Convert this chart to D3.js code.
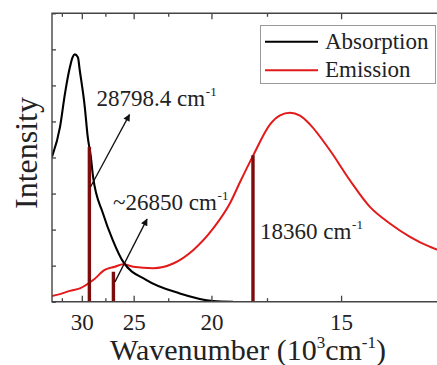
<!DOCTYPE html>
<html><head><meta charset="utf-8">
<script src="https://cdn.jsdelivr.net/npm/d3@7/dist/d3.min.js"></script>
<style>html,body{margin:0;padding:0;background:#fff;}svg{display:block;}</style>
</head><body>
<svg id="c" width="437" height="365"></svg>
<script>
// ---- data (wavenumber in 10^3 cm^-1, intensity in arbitrary units) ----
const absK = [33.90,32.75,32.08,31.44,31.11,30.85,30.46,30.24,29.66,29.33,28.99,28.75,27.75,26.80,25.88,24.01,21.77,19.92,18.95];
const absV = [4.02,4.85,5.78,6.51,6.78,6.86,6.78,6.42,5.40,4.57,4.02,3.46,2.46,1.71,1.11,0.60,0.23,0.02,0.00];
const emiK = [33.90,32.75,31.44,30.22,28.74,27.56,26.61,25.87,25.04,23.52,22.18,20.99,19.90,19.09,18.63,18.06,17.38,17.00,16.64,16.29,15.96,15.33,14.75,14.21,13.71,13.24,12.80,12.66,12.50];
const emiV = [0.16,0.21,0.30,0.37,0.60,0.88,0.97,1.04,0.97,0.93,1.06,1.43,2.04,2.73,3.32,4.06,4.92,5.17,5.24,5.16,4.92,4.20,3.37,2.63,2.17,1.80,1.52,1.45,1.40];
const barK = [29.15, 26.74, 18.07];
const barV = [4.29, 0.83, 4.06];
const barLabels = ["28798.4 cm", "~26850 cm", "18360 cm"];
const arrowFrom = [[29.03, 3.18], [26.60, 0.55]];
const arrowTo = [[25.34, 5.19], [23.97, 2.29]];
const majorTicks = [30, 25, 20, 15];
const minorTicks = [32.5, 27.5, 22.5, 17.5];
const yTicks = [0,1,2,3,4,5,6,7,8];
const seriesNames = ["Absorption", "Emission"];

// ---- layout ----
const svg = d3.select("#c");
const L = 52, T = 13.3, B = 301.7, R = 470;
const FONT = "'Liberation Serif','Times New Roman',serif";
const TXT = "#222";
// x axis is linear in wavelength (nm); wavenumber k -> 1e4/k
const x = d3.scaleLinear().domain([295, 790]).range([52, 437]);
const y = d3.scaleLinear().domain([0, 8]).range([B, T]);
const px = k => x(1e4 / k);

const defs = svg.append("defs");
defs.append("clipPath").attr("id", "clip")
  .append("rect").attr("x", L).attr("y", T).attr("width", R - L).attr("height", B - T);
defs.append("marker").attr("id", "ah").attr("viewBox", "0 0 10 10").attr("refX", 9).attr("refY", 5)
  .attr("markerWidth", 9).attr("markerHeight", 7).attr("markerUnits", "userSpaceOnUse").attr("orient", "auto")
  .append("path").attr("d", "M0,0 L10,5 L0,10 z").attr("fill", "#111");

const plot = svg.append("g").attr("clip-path", "url(#clip)");

const line = d3.line().x(d => px(d[0])).y(d => y(d[1])).curve(d3.curveMonotoneX);
const absData = absK.map((k, i) => [k, absV[i]]);
const emiData = emiK.map((k, i) => [k, emiV[i]]);

plot.append("path").datum(emiData).attr("d", line).attr("fill", "none")
  .attr("stroke", "#e31a1a").attr("stroke-width", 2);
plot.append("path").datum(absData).attr("d", line).attr("fill", "none")
  .attr("stroke", "#000").attr("stroke-width", 2.1);

// bars
plot.selectAll(".bar").data(barK).enter().append("line")
  .attr("x1", d => px(d)).attr("x2", d => px(d))
  .attr("y1", y(0)).attr("y2", (d, i) => y(barV[i]))
  .attr("stroke", "#7d0c0c").attr("stroke-width", 3.4);

// arrows
svg.selectAll(".arr").data(arrowFrom).enter().append("line")
  .attr("x1", d => px(d[0])).attr("y1", d => y(d[1]))
  .attr("x2", (d, i) => px(arrowTo[i][0])).attr("y2", (d, i) => y(arrowTo[i][1]))
  .attr("stroke", "#111").attr("stroke-width", 1.3).attr("marker-end", "url(#ah)");

// axes
const axG = svg.append("g").attr("font-family", FONT);
function styleAxis(g) {
  g.select(".domain").remove();
  g.selectAll(".tick line").attr("stroke", "#444").attr("stroke-width", 1.3);
}
const bMaj = axG.append("g").attr("transform", `translate(0,${B})`)
  .call(d3.axisBottom(x).tickValues(majorTicks.map(k => 1e4 / k)).tickSizeInner(-6).tickSizeOuter(0)
    .tickPadding(9).tickFormat(l => String(Math.round(1e4 / l))));
styleAxis(bMaj);
bMaj.selectAll(".tick text").attr("font-size", 23).attr("fill", TXT).attr("font-family", FONT).attr("dy", "0.85em");
const bMin = axG.append("g").attr("transform", `translate(0,${B})`)
  .call(d3.axisBottom(x).tickValues(minorTicks.map(k => 1e4 / k)).tickSizeInner(-3.5).tickSizeOuter(0).tickFormat(""));
styleAxis(bMin);
const tMaj = axG.append("g").attr("transform", `translate(0,${T})`)
  .call(d3.axisTop(x).tickValues(majorTicks.map(k => 1e4 / k)).tickSizeInner(-6).tickSizeOuter(0).tickFormat(""));
styleAxis(tMaj);
const tMin = axG.append("g").attr("transform", `translate(0,${T})`)
  .call(d3.axisTop(x).tickValues(minorTicks.map(k => 1e4 / k)).tickSizeInner(-3.5).tickSizeOuter(0).tickFormat(""));
styleAxis(tMin);
const lAx = axG.append("g").attr("transform", `translate(${L},0)`)
  .call(d3.axisLeft(y).tickValues(yTicks).tickSizeInner(-4).tickSizeOuter(0).tickFormat(""));
styleAxis(lAx);

// frame
svg.append("path").attr("d", `M${R},${T} H${L} V${B} H${R}`).attr("fill", "none")
  .attr("stroke", "#444").attr("stroke-width", 1.4);

// helper: write a run of [text, size, raise] pieces as separate text elements
function runText(x0, yBase, pieces, anchorMiddle) {
  const g = svg.append("g");
  const els = pieces.map(p => g.append("text").attr("y", yBase - p[2])
    .attr("font-family", FONT).attr("font-size", p[1]).attr("fill", TXT).text(p[0]));
  const widths = els.map(e => e.node().getComputedTextLength());
  const total = d3.sum(widths);
  let cx = anchorMiddle ? x0 - total / 2 : x0;
  els.forEach((e, i) => { e.attr("x", cx); cx += widths[i]; });
}

// annotation labels
const labelPos = [[96.5, 106], [113, 210], [260, 238.5]];
barLabels.forEach((t, i) => {
  runText(labelPos[i][0], labelPos[i][1], [[t, 23, 0], ["\u00a0", 3, 0], ["-1", 13, 10]], false);
});

// legend
const lg = svg.append("g");
lg.append("rect").attr("x", 260.5).attr("y", 25.5).attr("width", 175).attr("height", 58)
  .attr("fill", "#fff").attr("stroke", "#999").attr("stroke-width", 1);
const legColors = ["#000", "#e31a1a"];
seriesNames.forEach((n, i) => {
  const yy = 41.7 + i * 28.5;
  lg.append("line").attr("x1", 265).attr("x2", 318).attr("y1", yy).attr("y2", yy)
    .attr("stroke", legColors[i]).attr("stroke-width", 2);
  lg.append("text").attr("x", 325).attr("y", yy + 7).attr("font-family", FONT)
    .attr("font-size", 23).attr("fill", TXT).text(n);
});

// axis titles
runText(248, 360, [["Wavenumber (10", 30, 0], ["3", 17, 12], ["cm", 30, 0], ["-1", 17, 12], [")", 30, 0]], true);

svg.append("text").attr("transform", "translate(37,153) rotate(-90)").attr("text-anchor", "middle")
  .attr("font-family", FONT).attr("font-size", 32).attr("fill", TXT).text("Intensity");
</script>
</body></html>
